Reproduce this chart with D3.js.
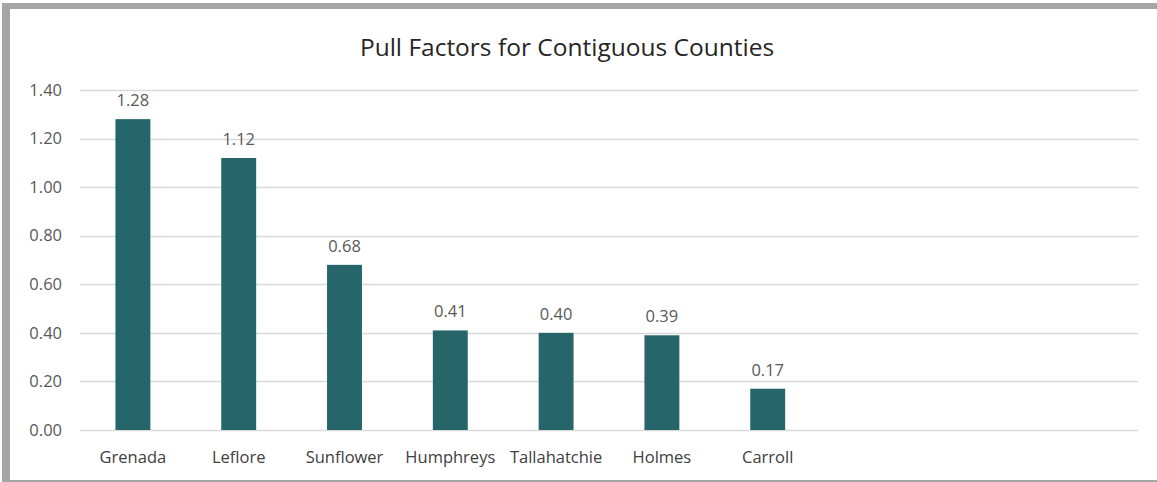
<!DOCTYPE html>
<html>
<head>
<meta charset="utf-8">
<script src="https://cdn.jsdelivr.net/npm/d3@7"></script>
<style>
  html, body { margin: 0; padding: 0; background: #ffffff; }
  svg { display: block; }
</style>
</head>
<body>
<svg id="chart" width="1157" height="482"></svg>
<script>
const title = "Pull Factors for Contiguous Counties";
const categories = ["Grenada", "Leflore", "Sunflower", "Humphreys", "Tallahatchie", "Holmes", "Carroll"];
const values = [1.28, 1.12, 0.68, 0.41, 0.40, 0.39, 0.17];
const emptySlots = ["_s1", "_s2", "_s3"];
const yTicks = [0, 0.2, 0.4, 0.6, 0.8, 1.0, 1.2, 1.4];

const W = 1157, H = 482;
const plot = { left: 80, right: 1138, top: 90, bottom: 430 };
const textColor = "#595959";
const barColor = "#26666a";
const font = "'Open Sans', 'Noto Sans', sans-serif";

const svg = d3.select("#chart");

// frame
svg.append("rect").attr("x", 0).attr("y", 0).attr("width", W).attr("height", H).attr("fill", "#ffffff");
svg.append("rect").attr("x", 2).attr("y", 3).attr("width", W - 2).attr("height", 6).attr("fill", "#a6a6a6");
svg.append("rect").attr("x", 2).attr("y", 3).attr("width", 8).attr("height", H - 3).attr("fill", "#a6a6a6");
svg.append("rect").attr("x", 2).attr("y", H - 2).attr("width", W - 2).attr("height", 2).attr("fill", "#a6a6a6");

const x = d3.scaleBand()
  .domain(categories.concat(emptySlots))
  .range([plot.left, plot.right])
  .paddingInner(0.67)
  .paddingOuter(0.335);

const y = d3.scaleLinear().domain([0, 1.4]).range([plot.bottom, plot.top]);

// gridlines
svg.append("g")
  .selectAll("line")
  .data(yTicks)
  .join("line")
  .attr("x1", plot.left).attr("x2", plot.right)
  .attr("y1", d => Math.round(y(d)) + 0.5).attr("y2", d => Math.round(y(d)) + 0.5)
  .attr("stroke", "#d9d9d9").attr("stroke-width", 1.5);

// y axis labels
const yAxis = d3.axisLeft(y).tickValues(yTicks).tickFormat(d3.format(".2f")).tickSize(0).tickPadding(0);
const yg = svg.append("g").attr("transform", `translate(62,0)`).call(yAxis);
yg.select(".domain").remove();
yg.selectAll("text").attr("fill", textColor).style("font-family", font).style("font-size", "16.5px");

// bars
svg.append("g")
  .selectAll("rect")
  .data(categories)
  .join("rect")
  .attr("x", d => x(d))
  .attr("width", x.bandwidth())
  .attr("y", (d, i) => y(values[i]))
  .attr("height", (d, i) => y(0) - y(values[i]))
  .attr("fill", barColor);

// value labels
svg.append("g")
  .selectAll("text")
  .data(categories)
  .join("text")
  .attr("x", d => x(d) + x.bandwidth() / 2)
  .attr("y", (d, i) => y(values[i]) - 13)
  .attr("text-anchor", "middle")
  .attr("fill", textColor)
  .style("font-family", font)
  .style("font-size", "16.5px")
  .text((d, i) => d3.format(".2f")(values[i]));

// x axis labels
const xAxis = d3.axisBottom(x).tickValues(categories).tickSize(0).tickPadding(0);
const xg = svg.append("g").attr("transform", `translate(0,451)`).call(xAxis);
xg.select(".domain").remove();
xg.selectAll("text").attr("fill", "#404040").attr("dy", "0.71em").style("font-family", font).style("font-size", "16.5px");

// title
svg.append("text")
  .attr("x", 567).attr("y", 56)
  .attr("text-anchor", "middle")
  .attr("fill", "#262626")
  .style("font-family", font)
  .style("font-size", "24.5px")
  .text(title);
</script>
</body>
</html>
